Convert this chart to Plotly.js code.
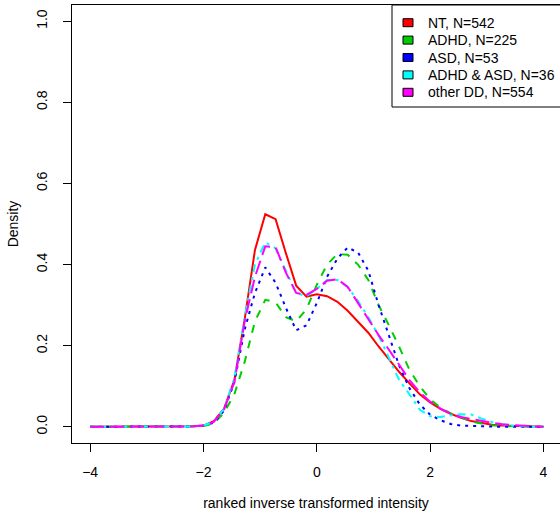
<!DOCTYPE html>
<html>
<head>
<meta charset="utf-8">
<script src="https://cdn.plot.ly/plotly-3.0.1.min.js"></script>
<style>
  html, body { margin: 0; padding: 0; background: #ffffff; }
  #chart { width: 560px; height: 518px; }
</style>
</head>
<body>
<div id="chart"></div>
<script>
// Evaluation grid of the density estimates
const xGrid = [-4.000, -3.818, -3.636, -3.455, -3.273, -3.091, -2.909, -2.727, -2.545, -2.364,
               -2.182, -2.000, -1.818, -1.636, -1.455, -1.273, -1.091, -0.909, -0.727, -0.545,
               -0.364, -0.182, 0.000, 0.182, 0.364, 0.545, 0.727, 0.909, 1.091, 1.273,
               1.455, 1.636, 1.818, 2.000, 2.182, 2.364, 2.545, 2.727, 2.909, 3.091,
               3.273, 3.455, 3.636, 3.818, 4.000];

// Density per group
const densNT = [0, 0, 0, 0, 0, 0, 0, 0, 0, 0,
  0.001, 0.003, 0.014, 0.045, 0.115, 0.265, 0.436, 0.524, 0.512, 0.428,
  0.348, 0.321, 0.327, 0.322, 0.308, 0.286, 0.259, 0.232, 0.198, 0.165,
  0.135, 0.107, 0.080, 0.060, 0.044, 0.032, 0.022, 0.014, 0.009, 0.005,
  0.003, 0.002, 0.001, 0, 0];
const densADHD = [0, 0, 0, 0, 0, 0, 0, 0, 0, 0,
  0.001, 0.002, 0.008, 0.035, 0.080, 0.160, 0.260, 0.313, 0.307, 0.270,
  0.260, 0.290, 0.350, 0.400, 0.426, 0.424, 0.400, 0.362, 0.300, 0.250,
  0.197, 0.140, 0.100, 0.068, 0.047, 0.033, 0.023, 0.013, 0.008, 0.004,
  0.002, 0.001, 0, 0, 0];
const densASD = [0, 0, 0, 0, 0, 0, 0, 0, 0, 0,
  0.001, 0.003, 0.010, 0.040, 0.110, 0.240, 0.330, 0.393, 0.355, 0.293,
  0.238, 0.250, 0.305, 0.370, 0.415, 0.442, 0.430, 0.385, 0.300, 0.225,
  0.150, 0.095, 0.055, 0.030, 0.016, 0.007, 0.003, 0.002, 0.001, 0,
  0, 0, 0, 0, 0];
const densBoth = [0, 0, 0, 0, 0, 0, 0, 0, 0, 0,
  0.001, 0.003, 0.012, 0.045, 0.120, 0.270, 0.400, 0.455, 0.440, 0.385,
  0.330, 0.322, 0.340, 0.362, 0.362, 0.345, 0.310, 0.270, 0.225, 0.170,
  0.115, 0.080, 0.042, 0.026, 0.024, 0.028, 0.031, 0.030, 0.020, 0.012,
  0.006, 0.003, 0.001, 0, 0];
const densOther = [0, 0, 0, 0, 0, 0, 0, 0, 0, 0,
  0.001, 0.003, 0.012, 0.043, 0.110, 0.260, 0.370, 0.445, 0.443, 0.380,
  0.330, 0.325, 0.340, 0.360, 0.364, 0.345, 0.305, 0.265, 0.226, 0.190,
  0.152, 0.115, 0.085, 0.062, 0.045, 0.032, 0.024, 0.019, 0.014, 0.010,
  0.006, 0.004, 0.002, 0.001, 0];

const groupLabels = ["NT, N=542", "ADHD, N=225", "ASD, N=53", "ADHD & ASD, N=36", "other DD, N=554"];
const groupColors = ["#ff0000", "#00cd00", "#0000ff", "#00ffff", "#ff00ff"];
const groupDash = ["solid", "8px,8px", "3px,5px", "3px,5px,8px,5px", "14px,6px"];
const groupDens = [densNT, densADHD, densASD, densBoth, densOther];

const xTicks = [-4, -2, 0, 2, 4];
const yTicks = [0, 0.2, 0.4, 0.6, 0.8, 1.0];
const yTickText = ["0.0", "0.2", "0.4", "0.6", "0.8", "1.0"];

const FONT = "Liberation Sans, Arial, Helvetica, sans-serif";
const textFont = { family: FONT, size: 14, color: "#000" };

// Figure geometry (pixels)
const W = 560, H = 518;
const M = { l: 72, r: 0, t: 5, b: 75 };
const plotW = W - M.l - M.r, plotH = H - M.t - M.b;
const px2paperX = p => (p - M.l) / plotW;
const px2paperY = p => (H - M.b - p) / plotH;

const traces = groupDens.map((d, i) => ({
  type: "scatter", mode: "lines", x: xGrid, y: d, name: groupLabels[i],
  line: { color: groupColors[i], width: 2, dash: groupDash[i] },
  showlegend: false, hoverinfo: "skip"
}));

// Boxed legend in the top-right corner: filled keys and labels
const legendBox = { left: 392, top: 5, bottom: 107 };
const keyLeft = 403, keyW = 10, keyH = 8, textLeft = 426;
const rowTop = 22.7, rowStep = 17.4;

const shapes = [{
  type: "rect", xref: "paper", yref: "paper",
  x0: px2paperX(legendBox.left), x1: 1.05,
  y0: px2paperY(legendBox.bottom), y1: px2paperY(legendBox.top),
  line: { color: "#000", width: 1 }, fillcolor: "rgba(0,0,0,0)"
}];
const annotations = [];
groupLabels.forEach((lab, i) => {
  const cy = rowTop + i * rowStep;
  shapes.push({
    type: "rect", xref: "paper", yref: "paper",
    x0: px2paperX(keyLeft), x1: px2paperX(keyLeft + keyW),
    y0: px2paperY(cy + keyH / 2), y1: px2paperY(cy - keyH / 2),
    line: { color: "#000", width: 1 }, fillcolor: groupColors[i]
  });
  annotations.push({
    xref: "paper", yref: "paper", x: px2paperX(textLeft), y: px2paperY(cy),
    xanchor: "left", yanchor: "middle", showarrow: false, text: lab,
    font: textFont
  });
});

const layout = {
  width: W, height: H, margin: M,
  paper_bgcolor: "#fff", plot_bgcolor: "#fff",
  font: textFont,
  showlegend: false,
  xaxis: {
    range: [-4.32, 4.292], tickvals: xTicks, ticks: "outside", ticklen: 8, tickwidth: 1,
    tickcolor: "#000", ticklabelstandoff: 8, tickfont: textFont,
    showline: true, linecolor: "#000", linewidth: 1, mirror: true,
    showgrid: false, zeroline: false, fixedrange: true,
    title: { text: "ranked inverse transformed intensity", standoff: 19, font: textFont }
  },
  yaxis: {
    range: [-0.04, 1.04], tickvals: yTicks, ticktext: yTickText, tickangle: -90,
    ticks: "outside", ticklen: 8, tickwidth: 1, tickcolor: "#000", ticklabelstandoff: 10,
    tickfont: textFont,
    showline: true, linecolor: "#000", linewidth: 1, mirror: false,
    showgrid: false, zeroline: false, fixedrange: true,
    title: { text: "Density", standoff: 12, font: textFont }
  },
  shapes: shapes,
  annotations: annotations
};

Plotly.newPlot("chart", traces, layout, { staticPlot: true });
</script>
</body>
</html>
